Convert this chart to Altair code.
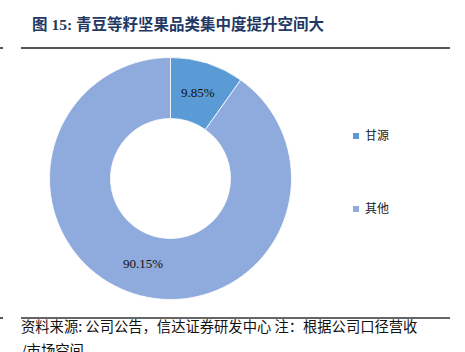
import altair as alt
import pandas as pd

categories = ["甘源", "其他"]
shares = [9.85, 90.15]
labels = ["9.85%", "90.15%"]
colors = ["#5B9BD5", "#8FAADC"]

df = pd.DataFrame({"cat": categories, "share": shares, "label": labels, "ord": [0, 1]})

CX, CY = 170.5, 178.5

base = alt.Chart(df).encode(
    theta=alt.Theta("share:Q", stack=True),
    order=alt.Order("ord:Q"),
)

arcs = base.mark_arc(radius=121, radius2=60, stroke="white", strokeWidth=0.8).encode(
    x=alt.value(CX), y=alt.value(CY),
    color=alt.Color(
        "cat:N",
        scale=alt.Scale(domain=categories, range=colors),
        sort=categories,
        legend=alt.Legend(
            title=None, orient="none", legendX=350, legendY=130,
            symbolType="square", symbolSize=36, symbolStrokeWidth=0,
            labelFont="Noto Sans CJK SC", labelFontSize=12, labelColor="#222",
            labelOffset=3, rowPadding=61, padding=0,
        ),
    ),
)

texts = base.mark_text(radius=90, font="Liberation Serif", fontSize=13, color="#111").encode(
    x=alt.value(CX), y=alt.value(CY), text="label:N"
)

title_txt = alt.Chart(pd.DataFrame({"t": ["图 15: 青豆等籽坚果品类集中度提升空间大"]})).mark_text(
    align="left", baseline="middle", font="Liberation Serif, Noto Sans CJK SC",
    fontSize=15.5, fontWeight="bold", color="#1F3864"
).encode(x=alt.value(32), y=alt.value(25), text="t:N")

foot1 = alt.Chart(pd.DataFrame({"t": ["资料来源: 公司公告，信达证券研发中心  注：根据公司口径营收"]})).mark_text(
    align="left", baseline="middle", font="Noto Sans CJK SC", fontSize=14.3, color="#111"
).encode(x=alt.value(21), y=alt.value(328), text="t:N")

foot2 = alt.Chart(pd.DataFrame({"t": ["/市场空间"]})).mark_text(
    align="left", baseline="middle", font="Noto Sans CJK SC", fontSize=14.3, color="#111"
).encode(x=alt.value(21), y=alt.value(352), text="t:N")

rule_df = pd.DataFrame({"a": [0]})
top_rule = alt.Chart(rule_df).mark_rule(color="#222", strokeWidth=1.5).encode(
    x=alt.value(21), x2=alt.value(450), y=alt.value(48))
bot_rule = alt.Chart(rule_df).mark_rule(color="#333", strokeWidth=1.5).encode(
    x=alt.value(21), x2=alt.value(450), y=alt.value(318))
tick1 = alt.Chart(rule_df).mark_rule(color="#222", strokeWidth=1.5).encode(
    x=alt.value(0), x2=alt.value(3), y=alt.value(48))
tick2 = alt.Chart(rule_df).mark_rule(color="#222", strokeWidth=1.5).encode(
    x=alt.value(0), x2=alt.value(3), y=alt.value(318))

chart = alt.layer(
    arcs, texts, title_txt, foot1, foot2, top_rule, bot_rule, tick1, tick2
).properties(
    width=465, height=352, padding=0, autosize=alt.AutoSizeParams(type="none"),
    background="white",
).configure_view(stroke=None)

chart.save("out.html", embed_options={"renderer": "svg", "actions": False})
